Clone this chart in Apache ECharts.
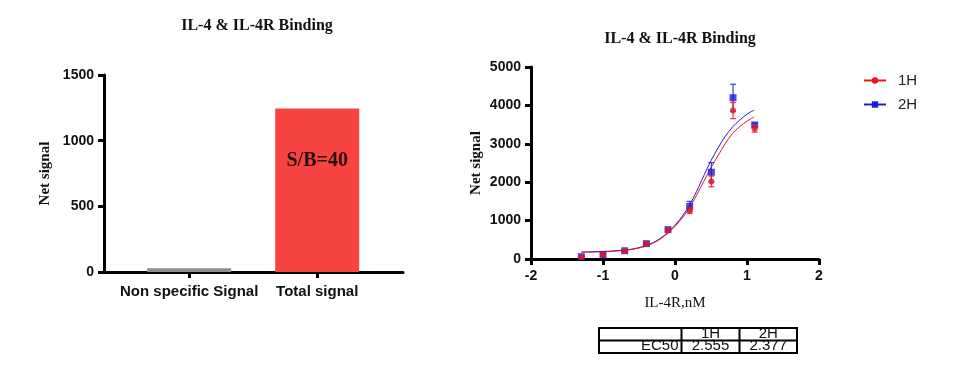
<!DOCTYPE html>
<html><head><meta charset="utf-8">
<script src="https://cdn.jsdelivr.net/npm/echarts@6/dist/echarts.min.js"></script>
<style>html,body{margin:0;padding:0;background:#fff}#c{width:959px;height:369px}</style>
</head><body><div id="c"></div>
<script>
// ---- Data ----
const chartTitle = 'IL-4 & IL-4R Binding';
const barCategories = ['Non specific Signal', 'Total signal'];
const barValues = [28, 1245];
const barLabel = 'S/B=40';
const barTicks = [0, 500, 1000, 1500];

const logConc = [-1.301, -1.0, -0.699, -0.398, -0.097, 0.204, 0.505, 0.806, 1.107];
const signal1H = [55, 105, 210, 390, 745, 1265, 2020, 3865, 3395];
const err1H    = [15, 20, 20, 30, 30, 80, 140, 210, 90];
const signal2H = [60, 110, 215, 400, 765, 1370, 2260, 4200, 3490];
const err2H    = [20, 20, 20, 30, 30, 130, 250, 350, 50];

// fitted curves
const fitX  = [-1.3, -1.2, -1.1, -1.0, -0.9, -0.8, -0.7, -0.6, -0.5, -0.4, -0.3, -0.2, -0.1, 0.0, 0.1, 0.2, 0.3, 0.4, 0.5, 0.6, 0.7, 0.8, 0.9, 1.0, 1.1];
const fit1H = [175, 179, 184, 190, 198, 210, 226, 250, 286, 340, 418, 525, 670, 850, 1065, 1330, 1660, 2020, 2380, 2700, 3010, 3270, 3450, 3590, 3700];
const fit2H = [182, 186, 191, 197, 205, 217, 233, 258, 295, 350, 430, 540, 690, 880, 1110, 1400, 1760, 2170, 2560, 2900, 3200, 3440, 3620, 3770, 3880];

const seriesNames = ['1H', '2H'];
const tableHeader = ['', '1H', '2H'];
const tableRowName = 'EC50';
const ec50Values = ['2.555', '2.377'];

// ---- Chart ----
const RED = '#e8161e', BLUE = '#1c1cd8';
const sans = '"Liberation Sans", Arial, sans-serif';
const serif = '"Liberation Serif", "Times New Roman", serif';
const zip = (a, b) => a.map((v, i) => [v, b[i]]);
const zip3 = (a, b, c) => a.map((v, i) => [v, b[i], c[i]]);

function errRender(color) {
  return function (params, api) {
    const x = api.value(0), y = api.value(1), e = api.value(2);
    const t = api.coord([x, y + e]), b = api.coord([x, y - e]);
    const w = 3;
    const st = { stroke: color, lineWidth: 1.2, opacity: 0.85 };
    return { type: 'group', children: [
      { type: 'line', shape: { x1: t[0], y1: t[1], x2: b[0], y2: b[1] }, style: st },
      { type: 'line', shape: { x1: t[0] - w, y1: t[1], x2: t[0] + w, y2: t[1] }, style: st },
      { type: 'line', shape: { x1: b[0] - w, y1: b[1], x2: b[0] + w, y2: b[1] }, style: st }
    ]};
  };
}

const tickStyle = { show: true, length: 6, lineStyle: { color: '#000', width: 3 } };
const tickLabel = { color: '#111', fontFamily: sans, fontWeight: 'bold', fontSize: 14, formatter: v => String(v) };

// table graphics
const tL = 599, tR = 797, tT = 328, tM = 340.5, tB = 353, c1 = 681.5, c2 = 739.5;
const lineSt = { stroke: '#000', lineWidth: 2 };
const cellFont = '15px ' + sans;
const cellText = (x, y, text, align) => ({ type: 'text', x: x, y: y, z: 10,
  style: { text: text, font: cellFont, fill: '#111', align: align, verticalAlign: 'middle' } });
const row1Y = 333.5, row2Y = 346;
const tableGraphics = [
  { type: 'rect', shape: { x: tL, y: tT, width: tR - tL, height: tB - tT }, style: { fill: 'none', stroke: '#000', lineWidth: 2 } },
  { type: 'line', shape: { x1: tL, y1: tM, x2: tR, y2: tM }, style: lineSt },
  { type: 'line', shape: { x1: c1, y1: tT, x2: c1, y2: tB }, style: lineSt },
  { type: 'line', shape: { x1: c2, y1: tT, x2: c2, y2: tB }, style: lineSt },
  cellText((c1 + c2) / 2, row1Y, tableHeader[1], 'center'),
  cellText((c2 + tR) / 2, row1Y, tableHeader[2], 'center'),
  cellText(c1 - 3, row2Y, tableRowName, 'right'),
  cellText((c1 + c2) / 2, row2Y, ec50Values[0], 'center'),
  cellText((c2 + tR) / 2, row2Y, ec50Values[1], 'center')
];

const chart = echarts.init(document.getElementById('c'), null, { renderer: 'canvas' });
chart.setOption({
  animation: false,
  backgroundColor: '#fff',
  title: [
    { text: chartTitle, left: 252, top: 13, textAlign: 'center', textStyle: { fontFamily: serif, fontWeight: 'bold', fontSize: 16, color: '#111' } },
    { text: chartTitle, left: 675, top: 26, textAlign: 'center', textStyle: { fontFamily: serif, fontWeight: 'bold', fontSize: 16, color: '#111' } }
  ],
  legend: {
    data: seriesNames, orient: 'vertical', left: 858, top: 68, itemGap: 9, itemWidth: 22, itemHeight: 8,
    textStyle: { fontFamily: sans, fontSize: 15, color: '#222', padding: [0, 0, 0, 7] }
  },
  grid: [
    { left: 104, width: 299, top: 75, height: 197 },
    { left: 531, width: 288, top: 67, height: 192 }
  ],
  xAxis: [
    { gridIndex: 0, type: 'value', min: 0.335, max: 2.67, splitLine: { show: false },
      axisLine: { onZero: false, lineStyle: { color: '#000', width: 3 } },
      axisTick: Object.assign({}, tickStyle, { customValues: [1, 2] }),
      axisLabel: Object.assign({}, tickLabel, { fontSize: 15, margin: 12, customValues: [1, 2], formatter: v => barCategories[Math.round(v) - 1] || '' }) },
    { gridIndex: 1, type: 'value', min: -2, max: 2, interval: 1, splitLine: { show: false },
      axisLine: { onZero: false, lineStyle: { color: '#000', width: 3 } }, axisTick: tickStyle,
      axisLabel: Object.assign({}, tickLabel, { margin: 10 }),
      name: 'IL-4R,nM', nameLocation: 'middle', nameGap: 37,
      nameTextStyle: { fontFamily: serif, fontSize: 15, color: '#111' } }
  ],
  yAxis: [
    { gridIndex: 0, type: 'value', min: barTicks[0], max: barTicks[barTicks.length - 1], interval: 500, splitLine: { show: false },
      axisLine: { show: true, onZero: false, lineStyle: { color: '#000', width: 3 } }, axisTick: tickStyle,
      axisLabel: Object.assign({}, tickLabel, { margin: 10 }),
      name: 'Net signal', nameLocation: 'middle', nameGap: 51, nameRotate: 90,
      nameTextStyle: { fontFamily: serif, fontWeight: 'bold', fontSize: 15, color: '#111' } },
    { gridIndex: 1, type: 'value', min: 0, max: 5000, interval: 1000, splitLine: { show: false },
      axisLine: { show: true, onZero: false, lineStyle: { color: '#000', width: 3 } }, axisTick: tickStyle,
      axisLabel: Object.assign({}, tickLabel, { margin: 10 }),
      name: 'Net signal', nameLocation: 'middle', nameGap: 47, nameRotate: 90,
      nameTextStyle: { fontFamily: serif, fontWeight: 'bold', fontSize: 15, color: '#111' } }
  ],
  series: [
    { type: 'bar', xAxisIndex: 0, yAxisIndex: 0, barWidth: 84,
      data: [
        { value: [1, barValues[0]], itemStyle: { color: '#8e8e8e' } },
        { value: [2, barValues[1]], itemStyle: { color: '#f84343' },
          label: { show: true, position: ['50%', 52], align: 'center', verticalAlign: 'middle', formatter: barLabel,
                   fontFamily: serif, fontWeight: 'bold', fontSize: 20, color: '#2a0c0c' } }
      ] },
    { name: '2H', type: 'line', xAxisIndex: 1, yAxisIndex: 1, data: zip(fitX, fit2H), smooth: 0.3,
      symbol: 'rect', symbolSize: 6, showSymbol: false, lineStyle: { color: BLUE, width: 1 }, itemStyle: { color: BLUE }, z: 2 },
    { name: '1H', type: 'line', xAxisIndex: 1, yAxisIndex: 1, data: zip(fitX, fit1H), smooth: 0.3,
      symbol: 'circle', symbolSize: 6, showSymbol: false, lineStyle: { color: RED, width: 1 }, itemStyle: { color: RED }, z: 2 },
    { name: 'err2H', type: 'custom', xAxisIndex: 1, yAxisIndex: 1, data: zip3(logConc, signal2H, err2H), renderItem: errRender(BLUE), z: 3 },
    { name: 'pts2H', type: 'scatter', xAxisIndex: 1, yAxisIndex: 1, data: zip(logConc, signal2H), symbol: 'rect', symbolSize: 7,
      itemStyle: { color: BLUE }, z: 4 },
    { name: 'err1H', type: 'custom', xAxisIndex: 1, yAxisIndex: 1, data: zip3(logConc, signal1H, err1H), renderItem: errRender(RED), z: 5 },
    { name: 'pts1H', type: 'scatter', xAxisIndex: 1, yAxisIndex: 1, data: zip(logConc, signal1H), symbol: 'circle', symbolSize: 6,
      itemStyle: { color: RED }, z: 6 }
  ],
  graphic: tableGraphics
});
</script></body></html>
